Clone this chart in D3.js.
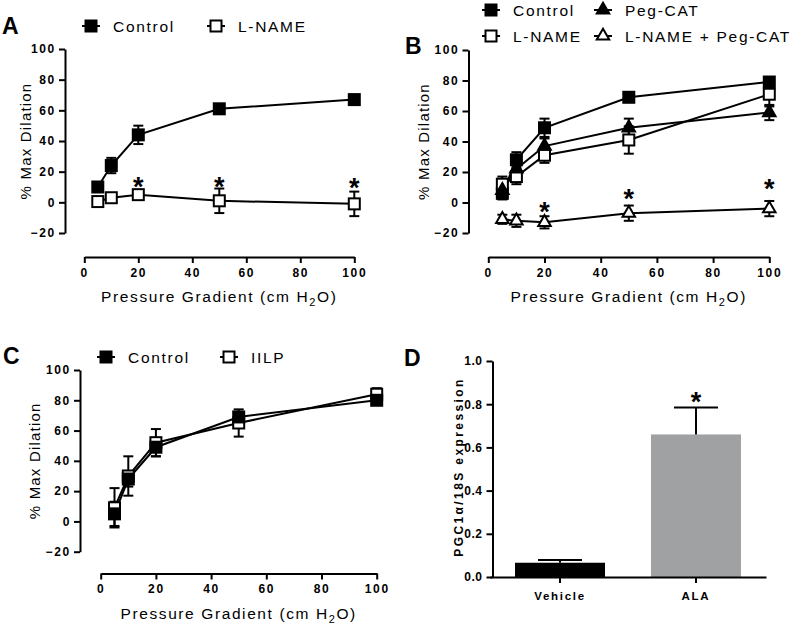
<!DOCTYPE html>
<html><head><meta charset="utf-8">
<script src="https://cdn.jsdelivr.net/npm/d3@7"></script>
<style>
body{margin:0;background:#fff}
text{font-family:"Liberation Sans",Arial,sans-serif;fill:#000}
</style>
</head><body>
<svg id="c" width="800" height="625"></svg>
<script>
// ---------- data ----------
const pressure = [5, 10, 20, 50, 100];
const yTicks = [-20, 0, 20, 40, 60, 80, 100];
const xTicks = [0, 20, 40, 60, 80, 100];

// Panel A
const aControl = [10, 24, 44, 61, 67];
const aControlErr = [2, 5, 6, 2, 3];
const aLname = [0.5, 3, 5, 1, -1];
const aLnameErr = [2, 2, 2, 8, 8];
const aStarX = [20, 50, 100];
const aStarY = [14, 14, 13];

// Panel B
const bControl = [6, 28, 49, 69, 79];
const bControlErr = [4, 5, 6, 3, 2];
const bLname = [12, 17, 31, 41, 71];
const bLnameErr = [5, 5, 5, 9, 8];
const bPegcat = [8, 22, 37, 49, 59];
const bPegcatErr = [4, 4, 5, 6, 5];
const bLnamePeg = [-11, -12, -13, -7, -4];
const bLnamePegErr = [3, 4, 4, 5, 5];
const bStarX = [20, 50, 100];
const bStarY = [-2, 6, 13];

// Panel C
const cControl = [5, 28, 49, 69, 80];
const cControlErr = [8, 5, 6, 3, 2];
const cIilp = [9, 30, 52, 65, 84];
const cIilpErr = [13, 13, 9, 9, 4];

// Panel D
const dGroups = ["Vehicle", "ALA"];
const dValues = [0.066, 0.66];
const dErr = [0.013, 0.125];
const dTicks = [0, 0.2, 0.4, 0.6, 0.8, 1.0];
const dColors = ["#000000", "#a0a1a3"];
const dStarY = 0.84;

// ---------- drawing ----------
const svg = d3.select("#c");
const FONT = '"Liberation Sans",Arial,sans-serif';

function marker(g, type, cx, cy) {
  const s = 11;
  if (type === "fsq" || type === "osq") {
    g.append("rect").attr("x", cx - s / 2).attr("y", cy - s / 2).attr("width", s).attr("height", s)
      .attr("fill", type === "fsq" ? "#000" : "#fff").attr("stroke", "#000").attr("stroke-width", 2);
  } else {
    const t = 12.5;
    const pts = [[cx, cy - t * 0.577], [cx + t / 2, cy + t * 0.289], [cx - t / 2, cy + t * 0.289]];
    g.append("path").attr("d", "M" + pts.map(p => p.join(",")).join("L") + "Z")
      .attr("fill", type === "ftri" ? "#000" : "#fff").attr("stroke", "#000").attr("stroke-width", 2)
      .attr("stroke-linejoin", "miter");
  }
}

function styleAxis(g) {
  g.select(".domain").attr("stroke", "#000").attr("stroke-width", 2);
  g.selectAll(".tick line").attr("stroke", "#000").attr("stroke-width", 2);
  g.selectAll(".tick text").attr("font-family", FONT).attr("font-weight", "bold")
    .attr("font-size", 12).attr("letter-spacing", 1.7).attr("fill", "#000");
}

function xTitle(g, cx, y) {
  const t = g.append("text").attr("x", cx).attr("y", y).attr("text-anchor", "middle")
    .attr("font-size", 15.5).attr("letter-spacing", 1.6);
  t.append("tspan").text("Pressure Gradient (cm H");
  t.append("tspan").text("2").attr("font-size", 11).attr("dy", 4);
  t.append("tspan").text("O)").attr("dy", -4);
}

function yTitle(g, x, cy, txt, opts) {
  g.append("text").attr("transform", `translate(${x},${cy}) rotate(-90)`)
    .attr("text-anchor", "middle").attr("dominant-baseline", "central")
    .attr("font-size", opts.size).attr("font-weight", opts.weight || "normal")
    .attr("letter-spacing", opts.ls).text(txt);
}

function panelLabel(x, y, t) {
  svg.append("text").attr("x", x).attr("y", y).attr("font-size", 23).attr("font-weight", "bold")
    .attr("font-family", '"Open Sans","Liberation Sans",Arial,sans-serif').text(t);
}

function linePanel(cfg) {
  const g = svg.append("g");
  const x = d3.scaleLinear().domain([0, 100]).range(cfg.xr);
  const y = d3.scaleLinear().domain([-20, 100]).range(cfg.yr);

  const ya = g.append("g").attr("transform", `translate(${cfg.yAxisX},0)`)
    .call(d3.axisLeft(y).tickValues(yTicks).tickSize(6).tickPadding(3).tickSizeOuter(0));
  styleAxis(ya);
  const xa = g.append("g").attr("transform", `translate(0,${cfg.xAxisY})`)
    .call(d3.axisBottom(x).tickValues(xTicks).tickSize(6).tickPadding(5).tickSizeOuter(0));
  styleAxis(xa);

  const line = d3.line().x((d, i) => x(pressure[i])).y(d => y(d));
  cfg.series.forEach(s => {
    g.append("path").datum(s.vals).attr("d", line).attr("fill", "none")
      .attr("stroke", "#000").attr("stroke-width", 2);
  });
  cfg.series.forEach(s => {
    s.vals.forEach((v, i) => {
      const px = x(pressure[i]);
      const cap = 5;
      g.append("line").attr("x1", px).attr("x2", px).attr("y1", y(v - s.err[i])).attr("y2", y(v + s.err[i]))
        .attr("stroke", "#000").attr("stroke-width", 2);
      [v - s.err[i], v + s.err[i]].forEach(e => {
        g.append("line").attr("x1", px - cap).attr("x2", px + cap).attr("y1", y(e)).attr("y2", y(e))
          .attr("stroke", "#000").attr("stroke-width", 2);
      });
    });
  });
  cfg.series.forEach(s => {
    s.vals.forEach((v, i) => marker(g, s.marker, x(pressure[i]), y(v)));
  });
  if (cfg.starX) {
    cfg.starX.forEach((sx, i) => {
      g.append("text").attr("x", x(sx)).attr("y", y(cfg.starY[i]) + 15).attr("text-anchor", "middle")
        .attr("font-size", 27).attr("font-weight", "bold").text("*");
    });
  }
  xTitle(g, (cfg.xr[0] + cfg.xr[1]) / 2, cfg.xAxisY + 45);
  yTitle(g, cfg.yTitleX, (cfg.yr[0] + cfg.yr[1]) / 2, "% Max Dilation", { size: 15, ls: 1.2 });

  cfg.legend.forEach(l => {
    g.append("line").attr("x1", l.x - 9).attr("x2", l.x + 9).attr("y1", l.y).attr("y2", l.y)
      .attr("stroke", "#000").attr("stroke-width", 2);
    marker(g, l.marker, l.x, l.y);
    g.append("text").attr("x", l.x + 22).attr("y", l.y).attr("dominant-baseline", "central")
      .attr("font-size", 15.5).attr("letter-spacing", 1.7).text(l.text);
  });
}

// Panel A
linePanel({
  xr: [84.3, 354.3], yr: [233, 49], yAxisX: 65, xAxisY: 257, yTitleX: 25,
  series: [
    { vals: aControl, err: aControlErr, marker: "fsq" },
    { vals: aLname, err: aLnameErr, marker: "osq" }
  ],
  starX: aStarX, starY: aStarY,
  legend: [
    { x: 91, y: 26, marker: "fsq", text: "Control" },
    { x: 216, y: 26, marker: "osq", text: "L-NAME" }
  ]
});
panelLabel(2, 34, "A");

// Panel B
linePanel({
  xr: [488.3, 769.3], yr: [233, 50], yAxisX: 468.5, xAxisY: 257, yTitleX: 423,
  series: [
    { vals: bControl, err: bControlErr, marker: "fsq" },
    { vals: bLname, err: bLnameErr, marker: "osq" },
    { vals: bPegcat, err: bPegcatErr, marker: "ftri" },
    { vals: bLnamePeg, err: bLnamePegErr, marker: "otri" }
  ],
  starX: bStarX, starY: bStarY,
  legend: [
    { x: 491, y: 10, marker: "fsq", text: "Control" },
    { x: 603, y: 10, marker: "ftri", text: "Peg-CAT" },
    { x: 491, y: 36, marker: "osq", text: "L-NAME" },
    { x: 603, y: 36, marker: "otri", text: "L-NAME + Peg-CAT" }
  ]
});
panelLabel(405, 54, "B");

// Panel C
linePanel({
  xr: [100.7, 376.7], yr: [551.7, 370], yAxisX: 80, xAxisY: 573.5, yTitleX: 34,
  series: [
    { vals: cIilp, err: cIilpErr, marker: "osq" },
    { vals: cControl, err: cControlErr, marker: "fsq" }
  ],
  legend: [
    { x: 106, y: 357, marker: "fsq", text: "Control" },
    { x: 229, y: 357, marker: "osq", text: "IILP" }
  ]
});
panelLabel(3, 364, "C");

// Panel D
(function () {
  const g = svg.append("g");
  const x = d3.scaleBand().domain(dGroups).range([490, 766]).paddingInner(0.338).paddingOuter(0.184);
  const y = d3.scaleLinear().domain([0, 1]).range([577, 361]);
  g.selectAll("rect.bar").data(dValues).enter().append("rect")
    .attr("x", (d, i) => x(dGroups[i])).attr("width", x.bandwidth())
    .attr("y", d => y(d)).attr("height", d => y(0) - y(d))
    .attr("fill", (d, i) => dColors[i]);
  dValues.forEach((v, i) => {
    const cx = x(dGroups[i]) + x.bandwidth() / 2;
    g.append("line").attr("x1", cx).attr("x2", cx).attr("y1", y(v)).attr("y2", y(v + dErr[i]))
      .attr("stroke", "#000").attr("stroke-width", 2);
    g.append("line").attr("x1", cx - 22).attr("x2", cx + 22).attr("y1", y(v + dErr[i])).attr("y2", y(v + dErr[i]))
      .attr("stroke", "#000").attr("stroke-width", 2);
  });
  const ya = g.append("g").attr("transform", "translate(492.5,0)")
    .call(d3.axisLeft(y).tickValues(dTicks).tickFormat(d3.format(".1f")).tickSize(6).tickPadding(4).tickSizeOuter(0));
  styleAxis(ya);
  ya.selectAll(".tick text").attr("letter-spacing", 0.5);
  const xa = g.append("g").attr("transform", `translate(0,${y(0)})`)
    .call(d3.axisBottom(x).tickSize(6).tickPadding(9).tickSizeOuter(0));
  styleAxis(xa);
  xa.selectAll(".tick text").attr("font-size", 11.5);
  g.append("text").attr("x", x("ALA") + x.bandwidth() / 2).attr("y", y(dStarY) + 15)
    .attr("text-anchor", "middle").attr("font-size", 27).attr("font-weight", "bold").text("*");
  yTitle(g, 459, 467, "PGC1α/18S expression", { size: 12, ls: 2.4, weight: "bold" });
})();
panelLabel(404, 366, "D");
</script>
</body></html>
